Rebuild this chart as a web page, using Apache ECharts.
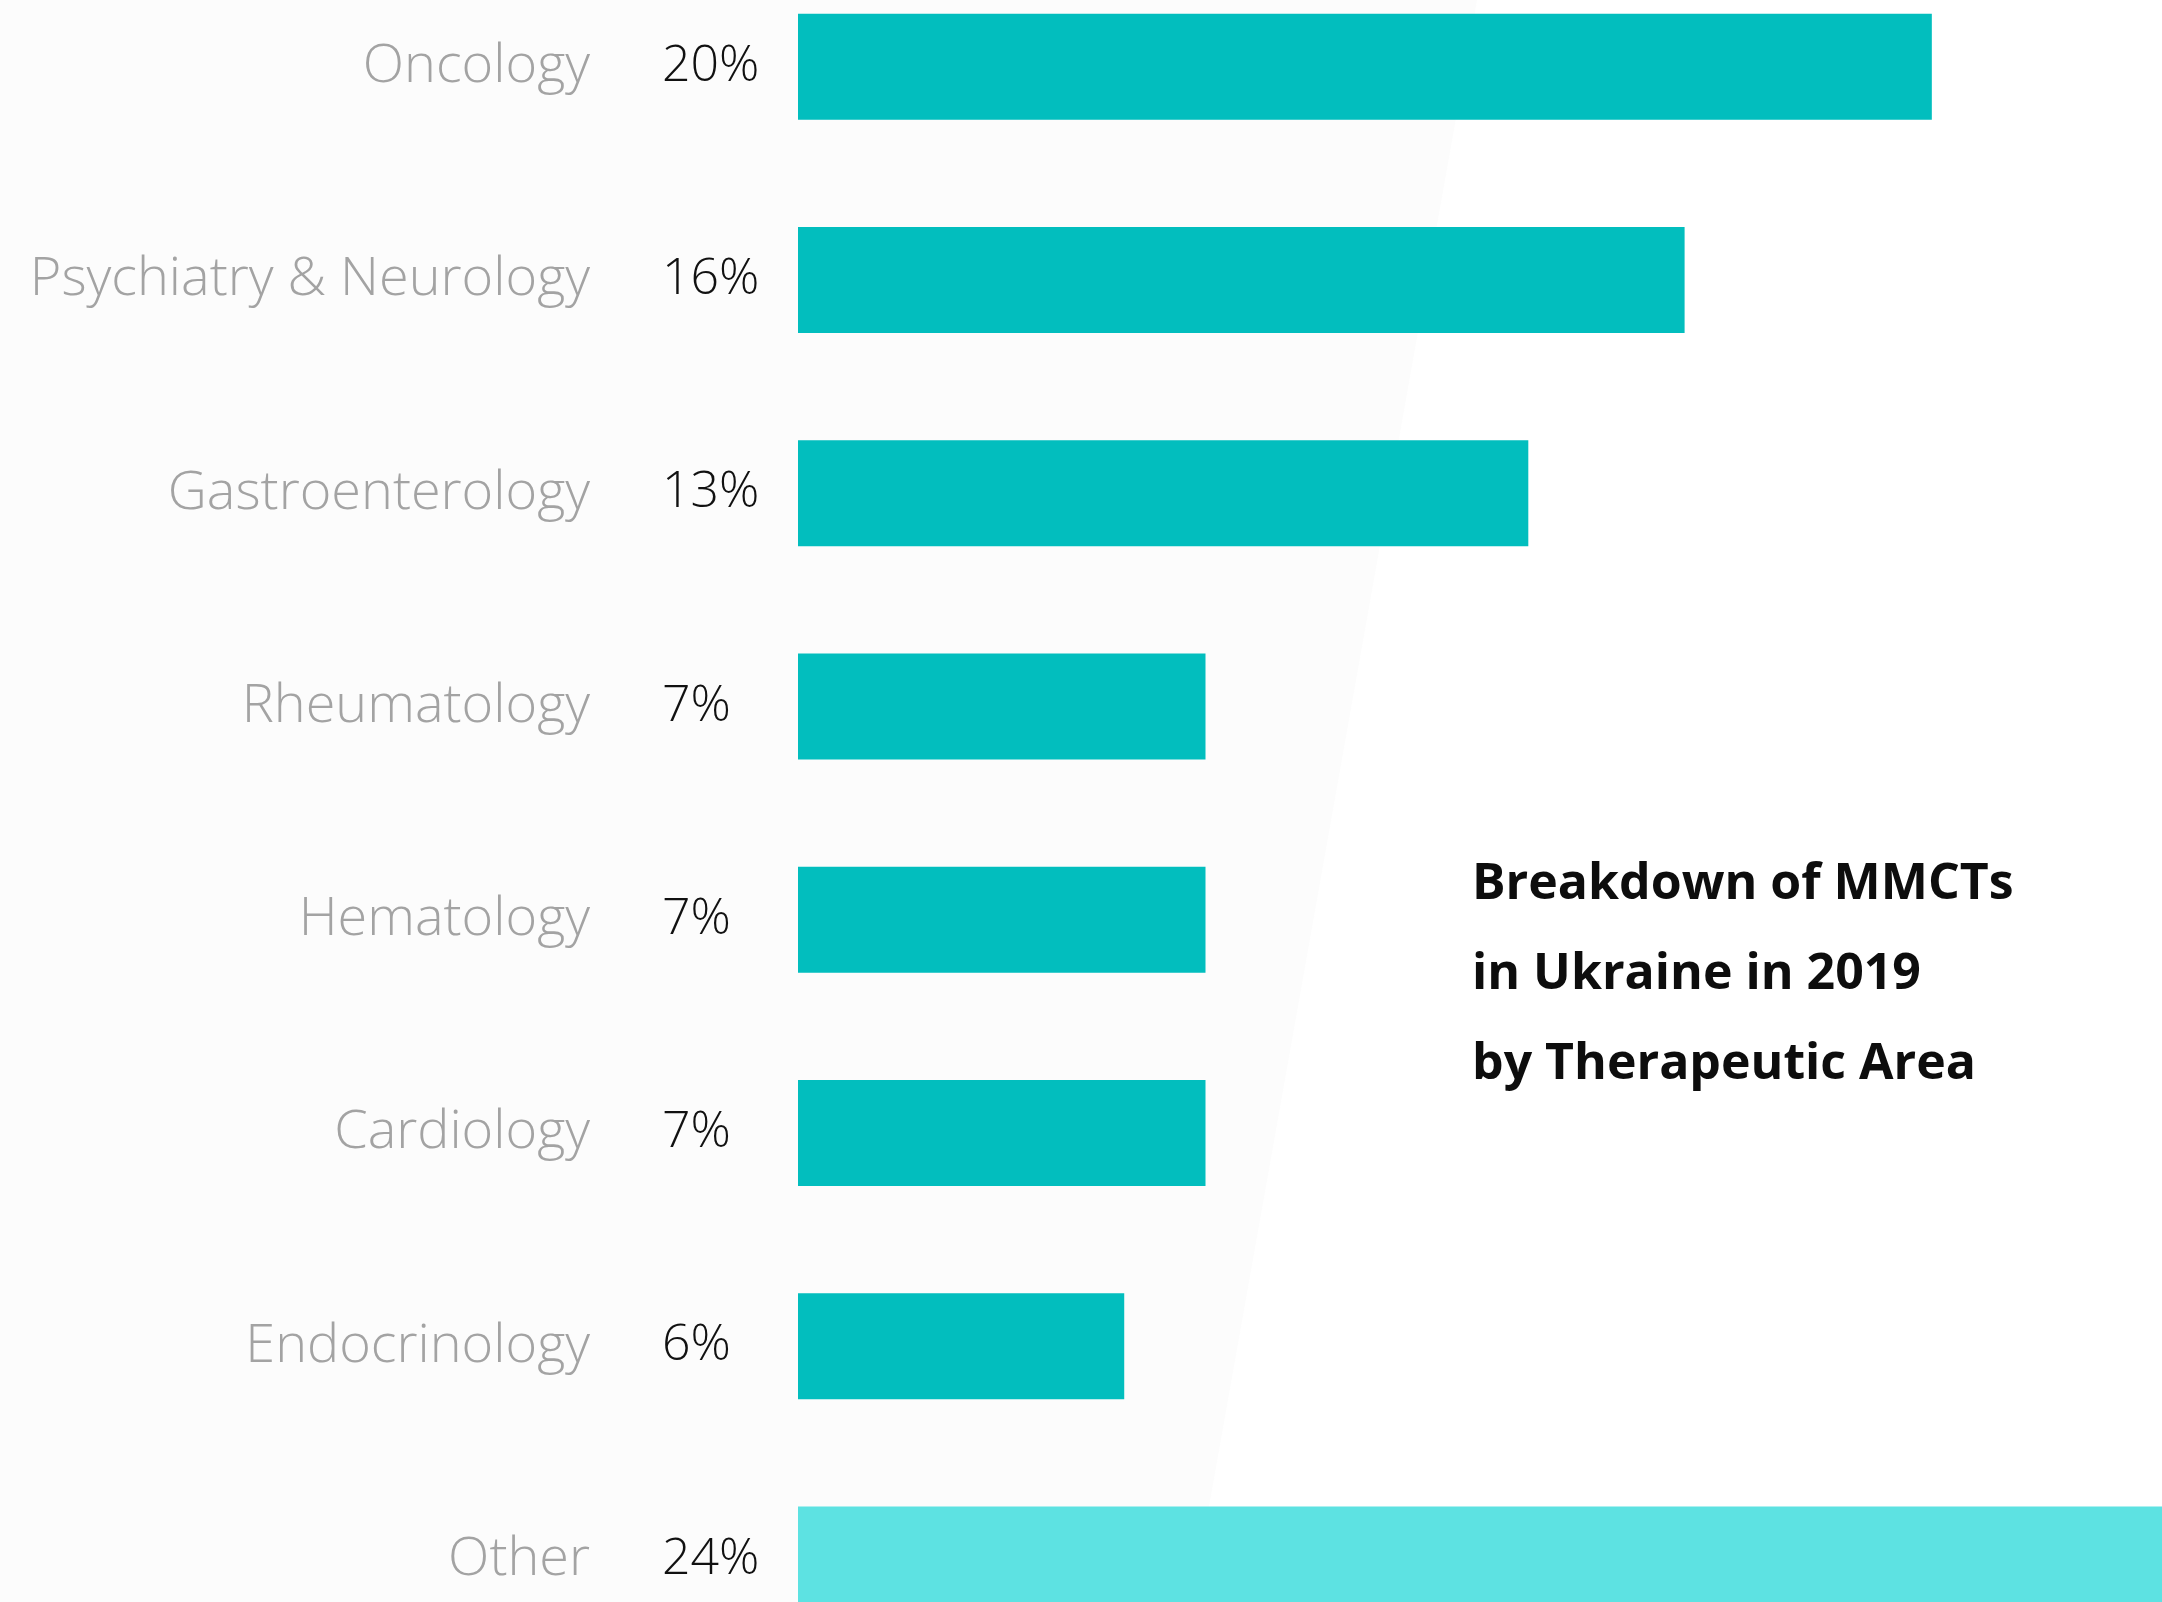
<!DOCTYPE html>
<html>
<head>
<meta charset="utf-8">
<script src="https://cdn.jsdelivr.net/npm/echarts@6/dist/echarts.min.js"></script>
<style>
  html, body { margin: 0; padding: 0; background: #fff; }
  #chart { width: 2162px; height: 1602px; }
</style>
</head>
<body>
<div id="chart"></div>
<script>
// therapeutic areas, top to bottom
const areas = ['Oncology', 'Psychiatry & Neurology', 'Gastroenterology', 'Rheumatology',
  'Hematology', 'Cardiology', 'Endocrinology', 'Other'];
// shares as drawn by the bar lengths (%)
const shares = [19.95, 15.6, 12.85, 7.17, 7.17, 7.17, 5.74, 24];
// rounded shares printed next to the bars
const shareLabels = ['20%', '16%', '13%', '7%', '7%', '7%', '6%', '24%'];

const chart = echarts.init(document.getElementById('chart'));

const option = {
  backgroundColor: '#ffffff',
  animation: false,
  title: {
    text: 'Breakdown of MMCTs\nin Ukraine in 2019\nby Therapeutic Area',
    left: 1467,
    top: 835,
    textStyle: {
      color: '#0d0d0d',
      fontFamily: 'Open Sans',
      fontWeight: 'bold',
      fontSize: 50,
      lineHeight: 90
    }
  },
  // faint light panel behind the labels
  graphic: [{
    type: 'polygon',
    z: -10,
    silent: true,
    shape: { points: [[0, 0], [1477, 0], [1192, 1602], [0, 1602]] },
    style: { fill: '#fcfcfc' }
  }],
  // the bar list runs past the top and bottom edges of the picture
  grid: { left: 798, right: 0, top: -40, bottom: -64, containLabel: false, outerBoundsMode: 'none' },
  xAxis: {
    type: 'value',
    min: 0,
    max: 24,
    show: false
  },
  yAxis: {
    type: 'category',
    inverse: true,
    data: areas,
    axisLine: { show: false },
    axisTick: { show: false },
    axisLabel: {
      margin: 208,
      color: '#a3a3a3',
      fontFamily: 'Open Sans',
      fontWeight: 300,
      fontSize: 54
    }
  },
  series: [{
    type: 'bar',
    data: shares.map(function (v, i) {
      return {
        value: v,
        itemStyle: { color: i === shares.length - 1 ? '#5de2e2' : '#02bebe' }
      };
    }),
    barWidth: 106,
    label: {
      show: true,
      position: 'insideLeft',
      distance: 0,
      offset: [-136, 0],
      formatter: function (p) { return shareLabels[p.dataIndex]; },
      color: '#111111',
      fontFamily: 'Open Sans',
      fontWeight: 300,
      fontSize: 50
    }
  }]
};

chart.setOption(option);
</script>
</body>
</html>
